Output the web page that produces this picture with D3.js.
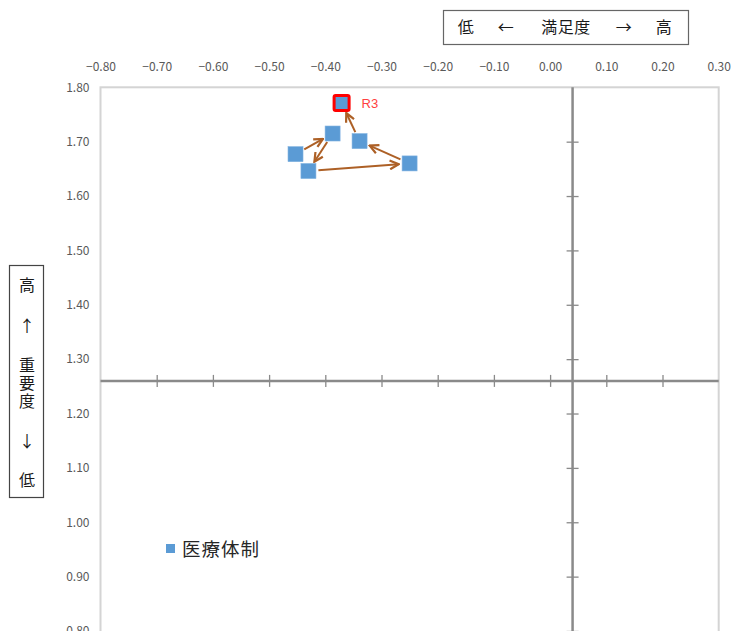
<!DOCTYPE html>
<html>
<head>
<meta charset="utf-8">
<script src="https://cdn.jsdelivr.net/npm/d3@7"></script>
<style>
  body { margin:0; background:#fff; }
  svg { display:block; font-family:"Noto Sans CJK JP","Noto Sans",sans-serif; }
</style>
</head>
<body>
<svg></svg>
<script>
// satisfaction (x) and importance (y), oldest -> newest
var satisfaction = [-0.453, -0.387, -0.430, -0.250, -0.339, -0.371];
var importance   = [1.677, 1.715, 1.646, 1.660, 1.701, 1.771];
var pointLabels  = ["", "", "", "", "", "R3"];
var seriesName   = "医療体制";

var xTicks = [-0.8,-0.7,-0.6,-0.5,-0.4,-0.3,-0.2,-0.1,0,0.1,0.2,0.3];
var yTicks = [1.8,1.7,1.6,1.5,1.4,1.3,1.2,1.1,1.0,0.9,0.8];
var xCross = 0.04;   // average satisfaction
var yCross = 1.26;   // average importance

var screen = { width:734, height:631 };
var svg = d3.select("svg")
  .attr("width", screen.width)
  .attr("height", screen.height);

var margins = { top:87.3, bottom:0, left:100.5, right:15.3 };

var xScale = d3.scaleLinear().domain([-0.8,0.3])
  .range([margins.left, screen.width - margins.right]);
var yScale = d3.scaleLinear().domain([0.8,1.8])
  .range([631, margins.top]);

var fmt = d3.format(".2f");

// plot area border
svg.append("rect")
  .attr("x", xScale(-0.8)).attr("y", yScale(1.8))
  .attr("width", xScale(0.3)-xScale(-0.8))
  .attr("height", yScale(0.8)-yScale(1.8)+10)
  .attr("fill","none").attr("stroke","#d4d4d4").attr("stroke-width",2);

// tick labels (top and left)
var xLabels = svg.append("g")
  .attr("transform","translate(0,"+(margins.top-13)+")")
  .call(d3.axisTop(xScale).tickValues(xTicks).tickFormat(fmt).tickSize(0));
var yLabels = svg.append("g")
  .attr("transform","translate("+(margins.left-8)+",0)")
  .call(d3.axisLeft(yScale).tickValues(yTicks).tickFormat(fmt).tickSize(0));
[xLabels,yLabels].forEach(function(g){
  g.select(".domain").remove();
  g.selectAll("text").attr("fill","#595959").style("font-size","12px")
    .style("font-family","'Noto Sans CJK JP',sans-serif");
});
xLabels.selectAll("text").attr("dy","0");
yLabels.selectAll("text").attr("dx","0");

// crossing axes
var hAxis = svg.append("g")
  .attr("transform","translate(0,"+yScale(yCross)+")")
  .call(d3.axisBottom(xScale).tickValues(xTicks.slice(1,11)).tickSize(6).tickFormat(""));
hAxis.selectAll(".tick line").attr("y1",-6);
var vAxis = svg.append("g")
  .attr("transform","translate("+xScale(xCross)+",0)")
  .call(d3.axisLeft(yScale).tickValues(yTicks.slice(1)).tickSize(6).tickFormat(""));
vAxis.selectAll(".tick line").attr("x1",6);
[hAxis,vAxis].forEach(function(g){
  g.select(".domain").attr("stroke","#8a8a8a").attr("stroke-width",2.5);
  g.selectAll(".tick line").attr("stroke","#8a8a8a").attr("stroke-width",1.3);
});
hAxis.select(".domain").attr("d","M"+xScale(-0.8)+",0H"+xScale(0.3));
vAxis.select(".domain").attr("d","M0,"+yScale(1.8)+"V"+(yScale(0.8)+10));

// arrows between consecutive years
var arrowColor = "#ad6026";
svg.append("defs").append("marker")
  .attr("id","arr").attr("viewBox","0 0 10 10")
  .attr("refX",9).attr("refY",5)
  .attr("markerWidth",5.5).attr("markerHeight",5.5)
  .attr("orient","auto")
  .append("path").attr("d","M1,1L9,5L1,9")
  .attr("fill","none").attr("stroke",arrowColor).attr("stroke-width",2);

var pts = satisfaction.map(function(d,i){
  return { x:xScale(d), y:yScale(importance[i]), label:pointLabels[i] };
});
var segs = d3.range(pts.length-1).map(function(i){ return [pts[i],pts[i+1]]; });
svg.append("g").selectAll("line")
  .data(segs).enter().append("line")
  .each(function(s){
    var dx = s[1].x-s[0].x, dy = s[1].y-s[0].y;
    var len = Math.sqrt(dx*dx+dy*dy);
    var ux = dx/len, uy = dy/len;
    d3.select(this)
      .attr("x1", s[0].x+ux*10).attr("y1", s[0].y+uy*10)
      .attr("x2", s[1].x-ux*11).attr("y2", s[1].y-uy*11);
  })
  .attr("stroke",arrowColor).attr("stroke-width",2)
  .attr("marker-end","url(#arr)");

// markers
var size = 15;
svg.append("g").selectAll("rect")
  .data(pts).enter().append("rect")
  .attr("x",function(d){ return d.x-size/2; })
  .attr("y",function(d){ return d.y-size/2; })
  .attr("width",size).attr("height",size)
  .attr("fill","#5b9bd5")
  .attr("stroke",function(d){ return d.label ? "#ff0000" : "#7fb1e0"; })
  .attr("stroke-width",function(d){ return d.label ? 3 : 0.6; })
  .attr("rx",function(d){ return d.label ? 1.5 : 0; });

svg.append("g").selectAll("text")
  .data(pts.filter(function(d){ return d.label; })).enter().append("text")
  .attr("x",function(d){ return d.x+20; })
  .attr("y",function(d){ return d.y+5; })
  .attr("fill","#ff4040").style("font-size","13px")
  .style("font-family","'Liberation Sans',sans-serif")
  .text(function(d){ return d.label; });

// legend
svg.append("rect").attr("x",166).attr("y",544).attr("width",9).attr("height",9)
  .attr("fill","#5b9bd5");
svg.append("text").attr("x",182).attr("y",556)
  .attr("fill","#262626").style("font-size","18.5px")
  .style("letter-spacing","1px").text(seriesName);

// top label box
svg.append("rect").attr("x",443.5).attr("y",10.5).attr("width",245).attr("height",34)
  .attr("fill","#fff").attr("stroke","#666").attr("stroke-width",1.2);
var topText = [["低",466],["←",506],["満足度",566],["→",624],["高",664]];
svg.append("g").selectAll("text").data(topText).enter().append("text")
  .attr("x",function(d){ return d[1]; }).attr("y",33)
  .attr("text-anchor","middle").attr("fill","#1a1a1a")
  .style("font-size","16px").style("letter-spacing","0.5px")
  .text(function(d){ return d[0]; });

// left label box
svg.append("rect").attr("x",9.5).attr("y",265.5).attr("width",34).attr("height",232)
  .attr("fill","#fff").attr("stroke","#444").attr("stroke-width",1.2);
var leftText = [["高",285],["↑",326],["↓",441],["低",480]];
svg.append("g").selectAll("text").data(leftText).enter().append("text")
  .attr("x",27).attr("y",function(d){ return d[1]; })
  .attr("dy","0.35em")
  .attr("text-anchor","middle").attr("fill","#1a1a1a")
  .style("font-size","16px").text(function(d){ return d[0]; });
// vertical title
svg.append("text")
  .attr("x",27).attr("y",384)
  .attr("text-anchor","middle").attr("fill","#1a1a1a")
  .style("writing-mode","vertical-rl")
  .style("font-size","16px").style("letter-spacing","2px")
  .text("重要度");
</script>
</body>
</html>
